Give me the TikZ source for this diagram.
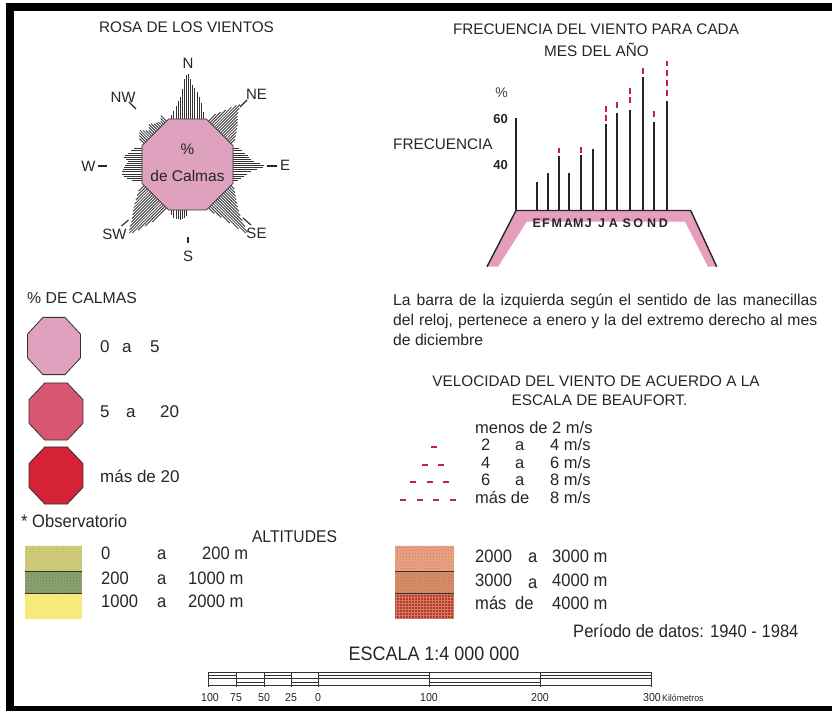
\documentclass[tikz,border=0pt]{standalone}
\usepackage{fontspec}
\setmainfont{Liberation Sans}
\newfontfamily\condf[FakeStretch=0.92]{Liberation Sans}
\usetikzlibrary{calc,patterns}
\definecolor{calmA}{RGB}{222,162,190}
\definecolor{calmB}{RGB}{216,86,114}
\definecolor{calmC}{RGB}{212,34,54}
\definecolor{rdash}{RGB}{200,30,75}
\definecolor{pband}{RGB}{230,158,188}
\definecolor{altA}{RGB}{208,204,122}
\definecolor{altAd}{RGB}{150,165,95}
\definecolor{altB}{RGB}{140,162,112}
\definecolor{altBd}{RGB}{105,130,90}
\definecolor{altC}{RGB}{245,234,122}
\definecolor{altD}{RGB}{234,164,132}
\definecolor{altDd}{RGB}{205,120,95}
\definecolor{altE}{RGB}{214,142,104}
\definecolor{altEd}{RGB}{190,110,80}
\definecolor{altF}{RGB}{176,62,42}
\definecolor{altFd}{RGB}{215,120,100}
\tikzset{
  txt/.style={font=\fontsize{15.3}{18}\selectfont, inner sep=0pt, text=black!85},
  ptxt/.style={font=\fontsize{15.7}{18}\selectfont, inner sep=0pt, text=black!85},
  btxt/.style={font=\fontsize{16.5}{19}\selectfont, inner sep=0pt, text=black!85},
  ltxt/.style={font=\fontsize{17}{20}\selectfont, inner sep=0pt, text=black!85},
  rlab/.style={font=\fontsize{15}{17}\selectfont, inner sep=0pt, text=black!85},
  ctxt/.style={font=\condf\fontsize{18}{21}\selectfont, inner sep=0pt, text=black!85},
  rbar/.style={line width=0.85pt, black!80},
  tick/.style={line width=1.1pt, black!85},
  octo/.style={draw=black!80, line width=0.8pt},
  cbar/.style={line width=1.6pt, black!85},
  rd/.style={line width=1.8pt, rdash},
  hd/.style={line width=2pt, rdash},
  sline/.style={line width=0.6pt, black!80}
}
\newcommand\rosebars[2]{%
  \foreach \len [count=\i] in {#2}{%
    \pgfmathsetmacro\sx{(\i-8.5)*2.1}%
    \draw[rbar] ($(#1:45.5)+({#1+90}:\sx)$) -- ++(#1:\len);
  }%
}
\begin{document}
\begin{tikzpicture}[x=1pt,y=-1pt]
\useasboundingbox (0,0) rectangle (832,711);
\fill[white] (0,0) rectangle (832,711);
% frame
\fill[black] (6,3) rectangle (14,711);
\fill[black] (6,3) rectangle (832,11);
\fill[black] (6,706) rectangle (832,711);

% ===== Rosa de los vientos
\node[txt, anchor=base] (trosa) at (186.5,33) {ROSA DE LOS VIENTOS};
\begin{scope}[shift={(187.5,164.5)}]
  \rosebars{270}{4,8,13,18,22,30,40,44,45,40,34,31,27,22,16,7}
  \rosebars{315}{10,15,20,26,31,34,31,27,24,22,20,18,15,12,9,6}
  \rosebars{0}{6,9,12,15,16,18,21,27,31,30,24,18,14,11,8,5}
  \rosebars{45}{5,8,11,14,17,20,24,28,33,39,45,44,36,26,16,8}
  \rosebars{90}{0,0,0,0,0,0,0,0,6,8,9,10,9,9,8,5}
  \rosebars{135}{20,28,36,42,44,42,39,35,32,29,26,23,20,16,12,8}
  \rosebars{180}{10,15,18,20,20,19,18,17,15,14,16,18,17,14,11,8}
  \rosebars{225}{7,9,11,12,10,8,6,8,10,9,7,6,5,4,6,8}
  \draw[octo, fill=calmA] (22.5:49.25) -- (67.5:49.25) -- (112.5:49.25) -- (157.5:49.25)
     -- (202.5:49.25) -- (247.5:49.25) -- (292.5:49.25) -- (337.5:49.25) -- cycle;
\end{scope}
\node[txt, anchor=base] (pc) at (187.5,155) {\%};
\node[txt, font=\fontsize{15.5}{18}\selectfont, anchor=base] (dc) at (187.5,182) {de Calmas};
\node[rlab, anchor=base] (lN) at (188,69) {N};
\node[rlab, anchor=base] (lNW) at (123,103) {NW};
\node[rlab, anchor=base] (lNE) at (256.5,100) {NE};
\node[rlab, anchor=base] (lW) at (88.5,172) {W};
\node[rlab, anchor=base] (lE) at (285,171) {E};
\node[rlab, anchor=base] (lSE) at (256.5,238.5) {SE};
\node[rlab, anchor=base] (lSW) at (114.5,239.5) {SW};
\node[rlab, anchor=base] (lS) at (188,261.5) {S};
\draw[tick] (129,102) -- (136,109);
\draw[tick] (240,107) -- (247,100);
\draw[tick] (98,166) -- (107,166);
\draw[tick] (267,166) -- (277,166);
\draw[tick] (243,218) -- (251,225);
\draw[tick] (121.5,226) -- (128.5,220);
\draw[tick] (188,237) -- (188,243.5);

% ===== Frecuencia chart
\node[txt, anchor=base] (tf1) at (596,35) {FRECUENCIA DEL VIENTO PARA CADA};
\node[txt, anchor=base] (tf2) at (596.5,57) {MES DEL AÑO};
\node[font=\fontsize{14}{16}\selectfont, inner sep=0pt, text=black!75, anchor=base] (pct) at (501.5,98) {\%};
\node[font=\bfseries\fontsize{13}{15}\selectfont, inner sep=0pt, text=black!85, anchor=base] (s60) at (500.5,124) {60};
\node[font=\bfseries\fontsize{13}{15}\selectfont, inner sep=0pt, text=black!85, anchor=base] (s40) at (500.5,170) {40};
\node[txt, anchor=base west] (frq) at (393,150) {FRECUENCIA};
\fill[pband] (487,266.7) -- (516,210.5) -- (690.7,210.5) -- (716.7,266.7) -- (708,266.7)
   -- (685,221.7) -- (526.7,221.7) -- (498,266.7) -- cycle;
\draw[line width=1.4pt, black!85] (487,266.7) -- (516,210.5) -- (690.7,210.5) -- (716.7,266.7);
\draw[cbar] (516,210.5) -- (516,118);
\foreach \x/\t in {537/181.7, 548/172.7, 559/156, 569/172.7, 581/155, 593/149.3,
   606/124, 617/113.3, 630/110, 643/77.3, 654/121.7, 667/100.7}
  \draw[cbar] (\x,210.5) -- (\x,\t);
\foreach \x/\a/\b in {559/148/153, 581/147/153, 606/106/112, 606/115/121,
   617/102/108, 630/88/94.5, 630/97/103.5, 643/68/74, 654/111.5/117,
   667/61/66.5, 667/70/76, 667/80/86, 667/90.5/96.5}
  \draw[rd] (\x,\a) -- (\x,\b);
\foreach \x/\m in {536.7/E, 546/F, 556.7/M, 568.3/A, 578.3/M, 588.3/J, 601.7/J,
   613.3/A, 626.7/S, 638.3/O, 651.7/N, 663.3/D}
  \node[font=\bfseries\fontsize{12.5}{13}\selectfont, inner sep=0pt, text=black!85, anchor=base] at (\x,227.5) {\m};

% ===== paragraph
\node[ptxt, anchor=base west] (p1) at (393,305) {\makebox[424pt][s]{La barra de la izquierda según el sentido de las manecillas}};
\node[ptxt, anchor=base west] (p2) at (393,325) {\makebox[424pt][s]{del reloj, pertenece a enero y la del extremo derecho al mes}};
\node[ptxt, anchor=base west] (p3) at (393,345) {de diciembre};

% ===== Beaufort
\node[txt, anchor=base] (v1) at (596,386) {VELOCIDAD DEL VIENTO DE ACUERDO A LA};
\node[txt, anchor=base] (v2) at (599.5,405) {ESCALA DE BEAUFORT.};
\node[btxt, anchor=base west] (b0) at (475,433) {menos de 2 m/s};
\node[btxt, anchor=base west] (b1a) at (481,450.5) {2};
\node[btxt, anchor=base west] (b1b) at (515,450.5) {a};
\node[btxt, anchor=base west] (b1c) at (550,450.5) {4 m/s};
\node[btxt, anchor=base west] (b2a) at (481,468) {4};
\node[btxt, anchor=base west] (b2b) at (515,468) {a};
\node[btxt, anchor=base west] (b2c) at (550,468) {6 m/s};
\node[btxt, anchor=base west] (b3a) at (481,485.5) {6};
\node[btxt, anchor=base west] (b3b) at (515,485.5) {a};
\node[btxt, anchor=base west] (b3c) at (550,485.5) {8 m/s};
\node[btxt, anchor=base west] (b4a) at (475,503) {más de};
\node[btxt, anchor=base west] (b4c) at (550,503) {8 m/s};
\draw[hd] (431,447) -- (437,447);
\foreach \a in {422,438} \draw[hd] (\a,465) -- ++(6,0);
\foreach \a in {410,427,443} \draw[hd] (\a,482) -- ++(6,0);
\foreach \a in {400,417,433,450} \draw[hd] (\a,500) -- ++(6,0);

% ===== % de calmas legend
\node[txt, font=\fontsize{15.8}{18}\selectfont, anchor=base west] (tcal) at (27,303) {\% DE CALMAS};
\draw[octo, fill=calmA, shift={(54,346)}, yscale=1.08] (22.5:28.7) -- (67.5:28.7) -- (112.5:28.7) -- (157.5:28.7)
   -- (202.5:28.7) -- (247.5:28.7) -- (292.5:28.7) -- (337.5:28.7) -- cycle;
\draw[octo, fill=calmB, shift={(56,411.5)}, yscale=1.06] (22.5:29.2) -- (67.5:29.2) -- (112.5:29.2) -- (157.5:29.2)
   -- (202.5:29.2) -- (247.5:29.2) -- (292.5:29.2) -- (337.5:29.2) -- cycle;
\draw[octo, fill=calmC, shift={(56,475.5)}, yscale=1.06] (22.5:29.2) -- (67.5:29.2) -- (112.5:29.2) -- (157.5:29.2)
   -- (202.5:29.2) -- (247.5:29.2) -- (292.5:29.2) -- (337.5:29.2) -- cycle;
\node[ltxt, anchor=base west] (c1a) at (100,352) {0};
\node[ltxt, anchor=base west] (c1b) at (122,352) {a};
\node[ltxt, anchor=base west] (c1c) at (150,352) {5};
\node[ltxt, anchor=base west] (c2a) at (100,417) {5};
\node[ltxt, anchor=base west] (c2b) at (126,417) {a};
\node[ltxt, anchor=base west] (c2c) at (160,417) {20};
\node[ltxt, anchor=base west] (c3) at (100,482) {más de 20};

% ===== altitudes
\node[ctxt, anchor=base west] (obs) at (21,527.5) {* Observatorio};
\node[ctxt, font=\condf\fontsize{17}{20}\selectfont, anchor=base] (alt) at (294.5,542) {ALTITUDES};
\fill[altA] (25,545.5) rectangle (82,571);
\fill[pattern=dots, pattern color=altAd] (25,545.5) rectangle (82,571);
\fill[altB] (25,571) rectangle (82,593);
\fill[pattern=crosshatch dots, pattern color=altBd] (25,571) rectangle (82,593);
\fill[altC] (25,593) rectangle (82,618.5);
\draw[sline] (25,571) -- (82,571) (25,593) -- (82,593);
\fill[altD] (395,545.5) rectangle (454,571);
\fill[pattern=crosshatch dots, pattern color=altDd] (395,545.5) rectangle (454,571);
\fill[altE] (395,571) rectangle (454,593);
\fill[pattern=crosshatch dots, pattern color=altEd] (395,571) rectangle (454,593);
\fill[altF] (395,593) rectangle (454,618.5);
\fill[pattern=grid, pattern color=altFd] (395,593) rectangle (454,618.5);
\draw[sline] (395,571) -- (454,571) (395,593) -- (454,593);
\node[ctxt, anchor=base west] (a1a) at (101,559) {0};
\node[ctxt, anchor=base west] (a1b) at (157,559) {a};
\node[ctxt, anchor=base west] (a1c) at (202,559) {200 m};
\node[ctxt, anchor=base west] (a2a) at (101,584) {200};
\node[ctxt, anchor=base west] (a2b) at (157,584) {a};
\node[ctxt, anchor=base west] (a2c) at (188,584) {1000 m};
\node[ctxt, anchor=base west] (a3a) at (101,607.5) {1000};
\node[ctxt, anchor=base west] (a3b) at (157,607.5) {a};
\node[ctxt, anchor=base west] (a3c) at (188,607.5) {2000 m};
\node[ctxt, anchor=base west] (a4a) at (475,562) {2000};
\node[ctxt, anchor=base west] (a4b) at (528,562) {a};
\node[ctxt, anchor=base west] (a4c) at (552,562) {3000 m};
\node[ctxt, anchor=base west] (a5a) at (475,586) {3000};
\node[ctxt, anchor=base west] (a5b) at (528,588) {a};
\node[ctxt, anchor=base west] (a5c) at (552,586) {4000 m};
\node[ctxt, anchor=base west] (a6a) at (475,609.5) {más};
\node[ctxt, anchor=base west] (a6b) at (515,609.5) {de};
\node[ctxt, anchor=base west] (a6c) at (552,609.5) {4000 m};
\node[ctxt, anchor=base west] (per) at (573,637) {Período de datos: 1940 - 1984};
\node[ctxt, font=\condf\fontsize{19.5}{22}\selectfont, anchor=base] (esc) at (434,660) {ESCALA 1:4 000 000};

% ===== scale bar
\draw[sline] (208,672) rectangle (651,685);
\draw[sline] (208,678.5) -- (651,678.5);
\draw[sline] (208,675) -- (236,675) (264,675) -- (291,675) (318,675) -- (429,675) (540,675) -- (651,675);
\draw[sline] (236,682) -- (264,682) (291,682) -- (318,682) (429,682) -- (540,682);
\foreach \x in {208,236,264,291,318,429,540,651}
  \draw[sline] (\x,672) -- (\x,687);
\foreach \x/\v in {210/100, 236/75, 264/50, 291/25, 318/0, 429/100, 540/200, 652/300}
  \node[font=\condf\fontsize{11.5}{12}\selectfont, inner sep=0pt, text=black!85, anchor=base] at (\x,701) {\v};
\node[font=\condf\fontsize{9.5}{10}\selectfont, inner sep=0pt, text=black!85, anchor=base west] (km) at (662,701) {Kilómetros};
\end{tikzpicture}
\end{document}
